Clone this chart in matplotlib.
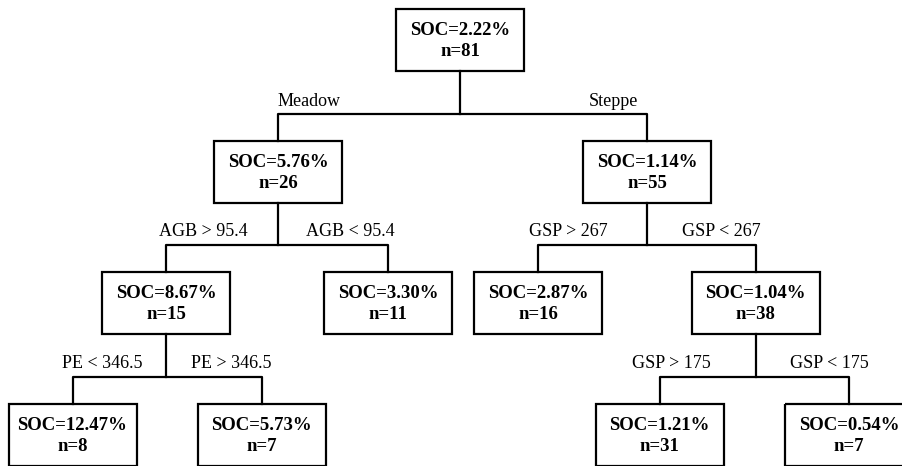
import matplotlib
matplotlib.use("Agg")
import matplotlib.pyplot as plt
from matplotlib.patches import Rectangle

# node data (preorder-ish id order)
soc = [2.22, 5.76, 1.14, 8.67, 3.30, 2.87, 1.04, 12.47, 5.73, 1.21, 0.54]
n_obs = [81, 26, 55, 15, 11, 16, 38, 8, 7, 31, 7]
# parent -> (left child, right child, left label, right label)
splits = [
    (0, 1, 2, "Meadow", "Steppe"),
    (1, 3, 4, "AGB > 95.4", "AGB < 95.4"),
    (2, 5, 6, "GSP > 267", "GSP < 267"),
    (3, 7, 8, "PE < 346.5", "PE > 346.5"),
    (6, 9, 10, "GSP > 175", "GSP < 175"),
]

# layout (pixels, y downward)
node_x = [460, 278, 647, 166, 388, 538, 755.5, 72.5, 261.5, 659.5, 849]
node_level = [0, 1, 1, 2, 2, 2, 2, 3, 3, 3, 3]
level_top = [9, 141, 272, 404]
box_w, box_h = 128, 62
# label offsets from the parent's vertical line: (left gap, right gap)
label_gaps = [(-32, 9), (30, 28), (39, 35), (24, 25), (45, 35)]

plt.rcParams['font.family'] = ['Liberation Serif', 'DejaVu Serif']

fig = plt.figure(figsize=(9.02, 4.66), dpi=100)
ax = fig.add_axes([0, 0, 1, 1])
ax.set_xlim(0, 902)
ax.set_ylim(466, 0)
ax.axis('off')

lw = 1.6
for i in range(len(soc)):
    top = level_top[node_level[i]]
    ax.add_patch(Rectangle((node_x[i] - box_w / 2, top), box_w, box_h,
                           fill=False, edgecolor='black', linewidth=lw))
    cy = top + box_h / 2 + 1
    ax.text(node_x[i], cy - 10.5, "SOC={:.2f}%".format(soc[i]), ha='center', va='center',
            fontsize=13.5, fontweight='bold')
    ax.text(node_x[i], cy + 10.5, "n={}".format(n_obs[i]), ha='center', va='center',
            fontsize=13.5, fontweight='bold')

for (p, l, r, ltxt, rtxt), (gl, gr) in zip(splits, label_gaps):
    lev = node_level[p]
    bottom = level_top[lev] + box_h
    child_top = level_top[lev + 1]
    hy = child_top - 27
    ax.plot([node_x[p], node_x[p]], [bottom, hy], color='black', lw=lw)
    ax.plot([node_x[l], node_x[l], node_x[r], node_x[r]],
            [child_top, hy, hy, child_top], color='black', lw=lw)
    ty = hy - 13
    if p == 0:
        # top split labels sit next to the child drops
        ax.text(node_x[l], ty, ltxt, ha='left', va='center', fontsize=13)
        ax.text(node_x[r] - gr, ty, rtxt, ha='right', va='center', fontsize=13)
    else:
        ax.text(node_x[p] - gl, ty, ltxt, ha='right', va='center', fontsize=13)
        ax.text(node_x[p] + gr, ty, rtxt, ha='left', va='center', fontsize=13)

fig.savefig("out.png", dpi=100)
